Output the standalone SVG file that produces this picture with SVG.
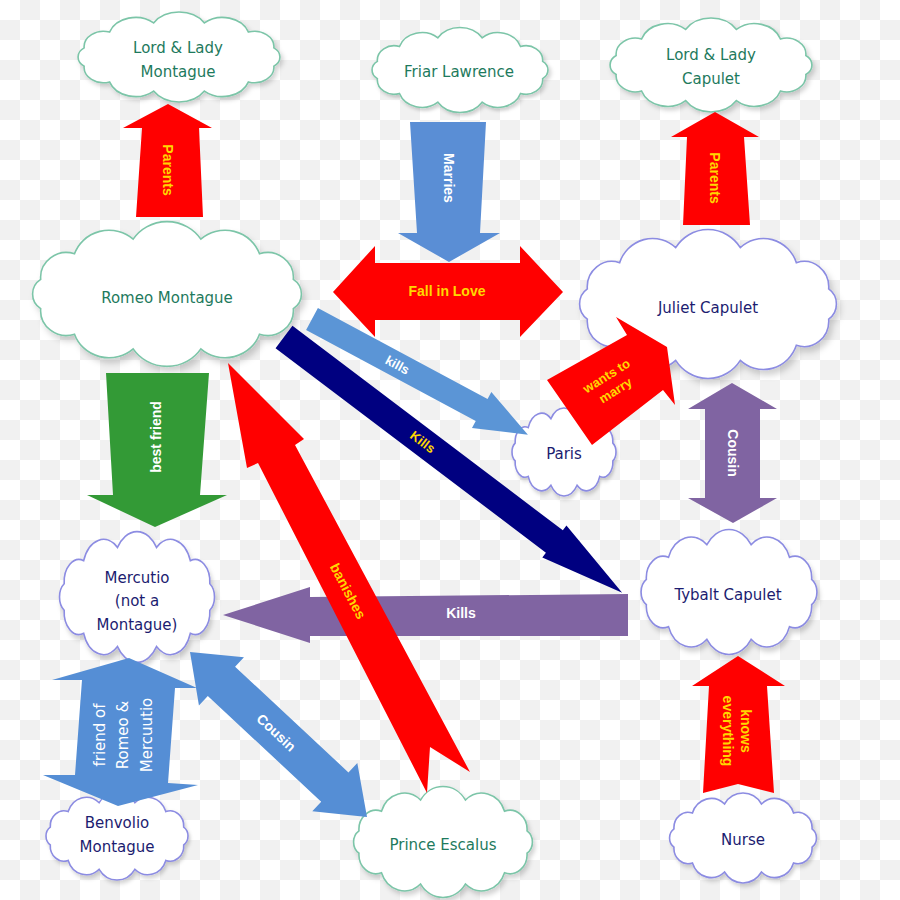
<svg xmlns="http://www.w3.org/2000/svg" xmlns:xlink="http://www.w3.org/1999/xlink" width="900" height="900" viewBox="0 0 900 900">
<style>
.cloud{fill:#fff;stroke-width:1.6;filter:url(#sh)}
.teal{stroke:#7cc5a8}
.blue{stroke:#8c8ce2}
.tt{font-family:"Comic Sans MS","DejaVu Sans",sans-serif;font-size:15px;text-anchor:middle}
.tg{fill:#1e7a5d}
.tb{fill:#1c1c70}
.lbl{font-family:"Liberation Sans",Arial,sans-serif;font-weight:bold;font-size:14px;text-anchor:middle}
.y{fill:#ffd700}
.w{fill:#fff}
</style>
<defs>
<pattern id="chk" width="40" height="40" patternUnits="userSpaceOnUse">
<rect width="40" height="40" fill="#fff"/>
<rect x="20" width="20" height="20" fill="#f1f1f1"/>
<rect y="20" width="20" height="20" fill="#f1f1f1"/>
</pattern>
<filter id="sh" x="-10%" y="-10%" width="125%" height="130%">
<feDropShadow dx="2" dy="3" stdDeviation="2" flood-color="#000" flood-opacity="0.18"/>
</filter>
<path id="cloud" vector-effect="non-scaling-stroke" d="M177.3,59.3 A15.8,15.8 0 0 1 156.6,75.5 A22.3,22.3 0 0 1 120.7,84.8 A24.8,24.8 0 0 1 79.3,84.8 A22.3,22.3 0 0 1 43.4,75.5 A15.8,15.8 0 0 1 22.7,59.3 A11.2,11.2 0 0 1 22.7,40.7 A15.8,15.8 0 0 1 43.4,24.5 A22.3,22.3 0 0 1 79.3,15.2 A24.8,24.8 0 0 1 120.7,15.2 A22.3,22.3 0 0 1 156.6,24.5 A15.8,15.8 0 0 1 177.3,40.7 A11.2,11.2 0 0 1 177.3,59.3 Z"/>
</defs>
<rect width="900" height="900" fill="url(#chk)"/>

<g id="lord-lady-montague">
<use xlink:href="#cloud" class="cloud teal" transform="translate(179,57) scale(1.227,0.978) translate(-100,-50)"/>
<text class="tt tg" x="178" y="48" dy=".35em">Lord &amp; Lady</text>
<text class="tt tg" x="178" y="72" dy=".35em">Montague</text>
</g>
<g id="friar-lawrence">
<use xlink:href="#cloud" class="cloud teal" transform="translate(460,70) scale(1.069,0.924) translate(-100,-50)"/>
<text class="tt tg" x="459" y="72" dy=".35em">Friar Lawrence</text>
</g>
<g id="lord-lady-capulet">
<use xlink:href="#cloud" class="cloud teal" transform="translate(711,65) scale(1.227,1.022) translate(-100,-50)"/>
<text class="tt tg" x="711" y="55" dy=".35em">Lord &amp; Lady</text>
<text class="tt tg" x="711" y="79" dy=".35em">Capulet</text>
</g>
<g id="romeo-montague">
<use xlink:href="#cloud" class="cloud teal" transform="translate(167,294) scale(1.634,1.576) translate(-100,-50)"/>
<text class="tt tg" x="167" y="298" dy=".35em">Romeo Montague</text>
</g>
<g id="juliet-capulet">
<use xlink:href="#cloud" class="cloud blue" transform="translate(708,304) scale(1.561,1.62) translate(-100,-50)"/>
<text class="tt tb" x="708" y="308" dy=".35em">Juliet Capulet</text>
</g>
<g id="paris">
<use xlink:href="#cloud" class="cloud blue" transform="translate(564,452) scale(0.632,0.957) translate(-100,-50)"/>
<text class="tt tb" x="564" y="454" dy=".35em">Paris</text>
</g>
<g id="tybalt-capulet">
<use xlink:href="#cloud" class="cloud blue" transform="translate(729,592) scale(1.069,1.359) translate(-100,-50)"/>
<text class="tt tb" x="728" y="595" dy=".35em">Tybalt Capulet</text>
</g>
<g id="mercutio">
<use xlink:href="#cloud" class="cloud blue" transform="translate(137,597) scale(0.942,1.424) translate(-100,-50)"/>
<text class="tt tb" x="137" y="578" dy=".35em">Mercutio</text>
<text class="tt tb" x="137" y="601" dy=".35em">(not a</text>
<text class="tt tb" x="137" y="625" dy=".35em">Montague)</text>
</g>
<g id="benvolio-montague">
<use xlink:href="#cloud" class="cloud blue" transform="translate(117,836) scale(0.863,0.957) translate(-100,-50)"/>
<text class="tt tb" x="117" y="823" dy=".35em">Benvolio</text>
<text class="tt tb" x="117" y="847" dy=".35em">Montague</text>
</g>
<g id="prince-escalus">
<use xlink:href="#cloud" class="cloud teal" transform="translate(443,842) scale(1.087,1.207) translate(-100,-50)"/>
<text class="tt tg" x="443" y="845" dy=".35em">Prince Escalus</text>
</g>
<g id="nurse">
<use xlink:href="#cloud" class="cloud blue" transform="translate(743,838) scale(0.893,0.978) translate(-100,-50)"/>
<text class="tt tb" x="743" y="840" dy=".35em">Nurse</text>
</g>

<g id="connectors">
<g id="parents-montague">
<polygon fill="#ff0000" points="142,128 123,128 168,104 212,128 199,128 203,217 136,217"/>
<text class="lbl y" transform="translate(168,170) rotate(90)" dy=".35em">Parents</text>
</g>
<g id="marries">
<polygon fill="#5a8ed5" points="410,122 486,122 480,233 500,233 449,262 398,233 417,233"/>
<text class="lbl w" transform="translate(449,178) rotate(90)" dy=".35em">Marries</text>
</g>
<g id="parents-capulet">
<polygon fill="#ff0000" points="687,137 671,137 715,112 759,137 744,137 750,225 683,225"/>
<text class="lbl y" transform="translate(715,178) rotate(90)" dy=".35em">Parents</text>
</g>
<g id="fall-in-love">
<polygon fill="#ff0000" points="333,292 375,246 375,263 520,263 520,246 563,292 520,337 520,320 375,320 375,337"/>
<text class="lbl y" x="447" y="291" dy=".35em">Fall in Love</text>
</g>
<g id="kills-paris" transform="translate(312,319) rotate(28.2)">
<polygon fill="#5b95d6" points="0,-12.5 192.5,-12.5 192.5,-20.5 245,0 192.5,20.5 192.5,12.5 0,12.5"/>
<text class="lbl w" style="font-size:13px" x="97" y="0" dy=".35em">kills</text>
</g>
<g id="kills-mercutio">
<polygon fill="#8064a2" points="628,594 310,597 310,587 223,615 310,643 310,636 628,636"/>
<text class="lbl w" x="461" y="613" dy=".35em">Kills</text>
</g>
<g id="kills-tybalt" transform="translate(284,337) rotate(37.1)">
<polygon fill="#000080" points="0,-14 339,-14 339,-20 424,0 339,20 339,14 0,14"/>
<text class="lbl y" style="font-size:13px" x="174" y="0" dy=".35em">Kills</text>
</g>
<g id="banishes">
<polygon fill="#ff0000" points="228,363 304,439 295,445 470,772 430,747 427,793 258,463 247,468"/>
<text class="lbl y" transform="translate(348,591) rotate(62.3)" dy=".35em">banishes</text>
</g>
<g id="best-friend">
<polygon fill="#339a36" points="106,373 209,373 200,495 227,495 155,527 87,495 113,495"/>
<text class="lbl w" transform="translate(156,437) rotate(-90)" dy=".35em">best friend</text>
</g>
<g id="wants-to-marry">
<polygon fill="#ff0000" points="547,380 627,335 616,317 667,347 675,405 663,390 592,445"/>
<g transform="translate(611,383) rotate(-32)">
<text class="lbl y" style="font-size:13px" x="0" y="-8.5" dy=".35em">wants to</text>
<text class="lbl y" style="font-size:13px" x="0" y="8.5" dy=".35em">marry</text>
</g>
</g>
<g id="cousin-juliet-tybalt">
<polygon fill="#8064a2" points="732,383 777,409 760,409 760,498 777,498 733,523 688,498 705,498 705,409 688,409"/>
<text class="lbl w" transform="translate(733,453) rotate(90)" dy=".35em">Cousin</text>
</g>
<g id="knows-everything">
<polygon fill="#ff0000" points="738,656 785,686 767,686 774,793 738,784 703,793 709,686 692,686"/>
<g transform="translate(737,731) rotate(90)">
<text class="lbl y" x="0" y="-9" dy=".35em">knows</text>
<text class="lbl y" x="0" y="9" dy=".35em">everything</text>
</g>
</g>
<g id="friend-of">
<polygon fill="#558ed5" points="129,658 197,688 175,688 168,783 198,785 118,806 43,775 75,775 82,680 52,680"/>
<g transform="translate(123,735) rotate(-90)">
<text class="tt w" x="0" y="-23" dy=".35em">friend of</text>
<text class="tt w" x="0" y="0" dy=".35em">Romeo &amp;</text>
<text class="tt w" x="0" y="24" dy=".35em">Mercuutio</text>
</g>
</g>
<g id="cousin-mercutio-escalus" transform="translate(190,652) rotate(43)">
<polygon fill="#558ed5" points="0,0 43,-33 43,-20 198,-20 198,-33 242,0 198,33 198,20 43,20 43,33"/>
<text class="lbl w" x="118" y="0" dy=".35em">Cousin</text>
</g>
</g>
</svg>
